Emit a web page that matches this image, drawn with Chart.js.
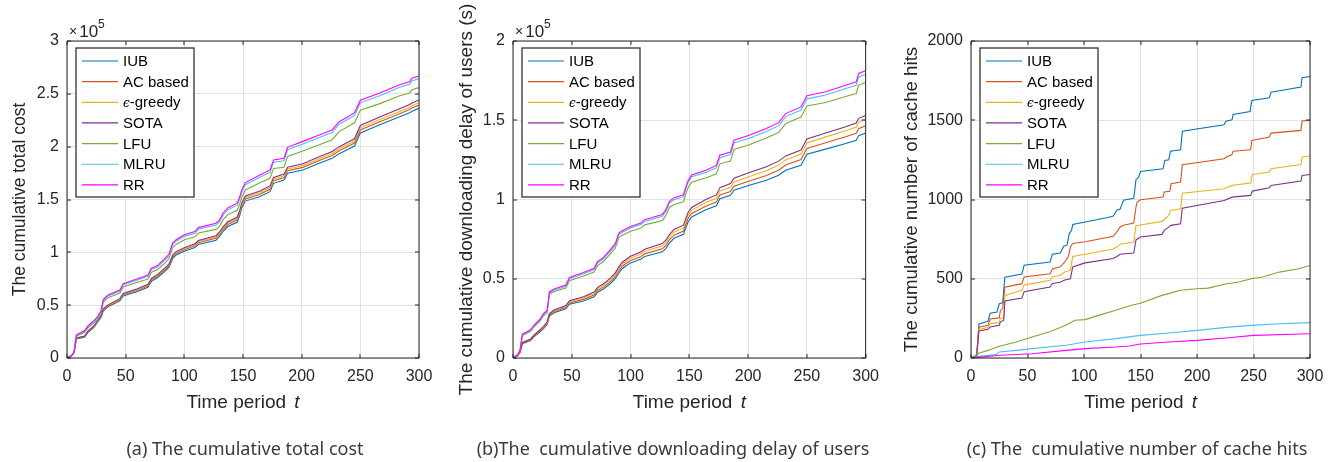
<!DOCTYPE html>
<html>
<head>
<meta charset="utf-8">
<script src="https://cdn.jsdelivr.net/npm/chart.js@4.4.1/dist/chart.umd.min.js"></script>
<style>
  html, body { margin: 0; padding: 0; background: #fff; }
  #wrap { position: relative; width: 1333px; height: 462px; overflow: hidden; }
  canvas { position: absolute; top: 0; }
</style>
</head>
<body>
<div id="wrap">
  <canvas id="costChart" width="444" height="462" style="left:0"></canvas>
  <canvas id="delayChart" width="444" height="462" style="left:444px"></canvas>
  <canvas id="hitsChart" width="445" height="462" style="left:888px"></canvas>
</div>
<script>
// Time periods where the cumulative curves of (a) and (b) change slope
const periods = [0, 4, 6, 8, 15, 18, 23, 26, 29, 31, 35, 45, 48, 60, 69, 72, 77, 83, 87, 90,
  93, 100, 109, 112, 127, 130, 133, 137, 145, 147, 149, 152, 164, 173, 176, 185, 188, 201, 215, 226,
  232, 245, 250, 266, 283, 292, 294, 300];

// (a) cumulative total cost, in thousands
const costIUB = [0, 2, 5, 18, 19.7, 24.4, 29, 33.8, 38.4, 44.7, 48.4, 54, 58.8, 63, 67, 72.5, 76, 81.5, 86, 94,
  97.5, 101, 104.5, 107.5, 111.5, 115, 119.7, 124.4, 128.5, 134, 142, 148.5, 152.6, 157.4, 165.3, 168.4, 174.8, 177.9, 184.2, 189,
  193.4, 200.6, 213, 220.5, 228, 232, 233.5, 236.3];
const costAC = [0, 2.1, 5.2, 18.5, 20.2, 25, 29.6, 34.5, 39.1, 45.5, 49.2, 54.9, 59.8, 64.1, 68.2, 73.7, 77.3, 82.8, 87.4, 95.4,
  98.9, 102.5, 106.1, 109.1, 113.3, 116.8, 121.6, 126.3, 130.5, 136, 144, 150.6, 154.8, 159.7, 167.6, 170.8, 177.2, 180.4, 186.8, 191.7,
  196.1, 203.4, 215.8, 223.4, 231, 235.1, 236.6, 239.4];
const costGreedy = [0, 2.1, 5.3, 18.8, 20.6, 25.4, 30, 34.9, 39.6, 46, 49.8, 55.6, 60.5, 64.9, 69, 74.6, 78.2, 83.8, 88.3, 96.4,
  99.9, 103.5, 107.2, 110.2, 114.5, 118.1, 122.9, 127.7, 131.9, 137.5, 145.5, 152, 156.3, 161.3, 169.2, 172.5, 178.9, 182.1, 188.6, 193.5,
  198, 205.3, 217.8, 225.5, 233.1, 237.2, 238.7, 241.6];
const costSOTA = [0, 2.2, 5.4, 19, 20.8, 25.6, 30.3, 35.3, 40, 46.5, 50.3, 56.2, 61.1, 65.6, 69.8, 75.3, 78.9, 84.5, 89.1, 97.2,
  100.7, 104.3, 108.1, 111.2, 115.7, 119.3, 124.1, 128.9, 133.2, 138.8, 146.8, 153.4, 157.8, 162.9, 170.8, 174.2, 180.6, 183.9, 190.5, 195.5,
  200, 207.5, 220, 227.8, 235.6, 239.8, 241.3, 244.2];
const costLFU = [0, 2.3, 5.1, 20.5, 24.4, 28.8, 33.3, 36.9, 42.4, 53.1, 57.1, 61.5, 67.3, 71.6, 74.8, 81.2, 83.5, 89.3, 94.1, 104.4,
  107.5, 111.9, 114.7, 118.3, 121.7, 124.6, 130.9, 135.7, 139.8, 145.2, 152.1, 159, 165.5, 170.1, 179.4, 180.5, 190.8, 196, 201.9, 206.6,
  214.3, 222.6, 234.5, 240.5, 247.9, 250.7, 253.8, 255.9];
const costMLRU = [0, 2.4, 5.3, 21.2, 25.2, 29.8, 34.4, 38.1, 43.7, 54.6, 58.7, 63.3, 69.2, 73.8, 77.3, 83.7, 86.2, 92.1, 97, 107.4,
  110.5, 115.1, 118.1, 121.8, 125.8, 128.8, 135.2, 140.2, 144.6, 150, 157, 164, 170.9, 175.8, 185.2, 186.7, 197.1, 202.6, 208.6, 213.4,
  221.2, 229.5, 241.5, 248, 255.9, 259, 262.2, 264.4];
const costRR = [0, 2.5, 5.6, 22, 26, 30.6, 35.3, 39, 44.7, 55.6, 59.7, 64.4, 70.3, 75, 78.5, 85, 87.5, 93.5, 98.4, 108.8,
  112, 116.6, 119.7, 123.4, 127.5, 130.6, 137, 142, 146.5, 152, 159, 166, 173, 178, 187.4, 189, 199.4, 205, 211, 215.8,
  223.6, 232, 244, 250.5, 258.4, 261.5, 264.7, 266.9];

// (b) cumulative downloading delay, in thousands of seconds
const delayIUB = [0, 1.5, 3.5, 9, 11, 13.5, 16.5, 18.5, 21.2, 26.5, 28.5, 31, 33.9, 36, 38.6, 41.5, 43.5, 47, 50, 53.5,
  56.5, 60, 62.5, 64, 67, 69, 72.5, 75.5, 78, 82, 86, 89, 93.5, 96, 100.5, 102.6, 105.8, 109, 112, 115.3,
  118.4, 121.6, 128.5, 131.8, 135.3, 137.4, 140.3, 142];
const delayAC = [0, 1.6, 3.7, 9.3, 11.4, 13.9, 17, 19, 21.8, 27.1, 29.2, 31.8, 34.7, 37, 39.7, 42.6, 44.7, 48.3, 51.3, 54.9,
  57.9, 61.5, 64.1, 65.7, 68.9, 70.9, 74.5, 77.5, 80.1, 84.2, 88.2, 91.2, 95.8, 98.4, 102.9, 105.1, 108.4, 111.7, 115, 118.5,
  121.7, 125.2, 132.2, 135.8, 139.6, 141.8, 144.7, 146.5];
const delayGreedy = [0, 1.6, 3.8, 9.6, 11.8, 14.4, 17.5, 19.5, 22.3, 27.7, 29.8, 32.5, 35.5, 37.9, 40.7, 43.7, 45.9, 49.6, 52.7, 56.3,
  59.3, 63, 65.7, 67.3, 70.7, 72.8, 76.4, 79.5, 82.2, 86.2, 90.3, 93.3, 98.1, 100.8, 105.4, 107.7, 111, 114.5, 118, 121.7,
  125, 128.7, 135.7, 139.5, 143.4, 145.7, 148.7, 150.5];
const delaySOTA = [0, 1.7, 3.9, 9.8, 12, 14.6, 17.8, 19.9, 22.7, 28.1, 30.3, 33.1, 36.2, 38.7, 41.6, 44.6, 46.8, 50.6, 53.7, 57.3,
  60.4, 64.2, 67, 68.6, 72.2, 74.3, 77.9, 81.1, 83.8, 87.9, 92, 95, 100, 102.9, 107.5, 110.1, 113.4, 117, 120.5, 124.2,
  127.5, 131.2, 138.2, 142, 145.9, 148.2, 151.2, 153];
const delayLFU = [0, 1.9, 4.7, 14.2, 16.8, 19.7, 23.3, 26.7, 28.6, 40.2, 41.9, 44.1, 48.8, 51.8, 54.2, 58.3, 60.9, 65.8, 69.2, 76,
  77.4, 80, 82, 84, 86.8, 89.8, 95, 96.9, 98.6, 103.6, 107.5, 110.9, 113.5, 116.2, 122.5, 124.3, 131.6, 134.5, 138.6, 142.3,
  147.9, 152, 159, 161.2, 165, 166.9, 172.2, 173.8];
const delayMLRU = [0, 2, 4.9, 14.7, 17.4, 20.3, 23.9, 27.3, 29.3, 40.9, 42.7, 45.2, 50, 53.1, 55.7, 59.9, 62.6, 67.5, 71, 77.8,
  79.3, 82, 84.2, 86.2, 89.4, 92.5, 97.7, 99.8, 101.8, 106.8, 110.8, 114.3, 117.1, 120, 126.4, 128.4, 135.7, 138.7, 142.8, 146.6,
  152.3, 156.4, 163.5, 165.9, 170, 172, 177.3, 179];
const delayRR = [0, 2, 5, 15, 17.8, 20.8, 24.5, 28, 30, 41.7, 43.5, 46, 50.8, 54, 56.6, 60.8, 63.5, 68.5, 72, 78.8,
  80.3, 83, 85.2, 87.3, 90.5, 93.6, 98.9, 101, 103, 108, 112, 115.5, 118.5, 121.5, 127.9, 130, 137.4, 140.5, 144.7, 148.5,
  154.2, 158.4, 165.5, 168, 172.1, 174.2, 179.5, 181.2];

// (c) cumulative cache hits as [period, hits]
const hitsIUB = [[0, 0], [5, 10], [7, 215], [15, 232], [17, 282], [23, 290], [25, 342], [28, 348], [30, 510], [45, 530],
  [47, 585], [70, 605], [72, 655], [79, 662], [82, 705], [85, 712], [87, 785], [89, 806], [90, 842], [101, 858],
  [120, 885], [126, 895], [129, 932], [132, 940], [135, 996], [144, 1008], [146, 1125], [148, 1138], [150, 1177], [170, 1194],
  [171.5, 1246], [175, 1251], [176.5, 1305], [185.5, 1314], [187, 1431], [224, 1471], [225.5, 1494], [231, 1503], [232, 1537], [247, 1555],
  [248.5, 1625], [264, 1642], [265.5, 1677], [292, 1709], [293, 1768], [300, 1776]];
const hitsAC = [[0, 0], [5, 12], [7, 195], [15, 206], [17, 246], [25, 253], [26, 300], [28, 312], [30, 447], [45, 469],
  [47, 511], [70, 532], [72, 562], [79, 575], [83, 606], [86, 638], [88, 700], [90, 722], [101, 733], [126, 768],
  [129, 796], [132, 827], [135, 838], [144, 851], [146, 952], [147, 984], [150, 998], [170, 1015], [171, 1047], [176, 1052],
  [177, 1099], [185.5, 1110], [187, 1219], [224, 1257], [226, 1268], [231, 1284], [232, 1305], [247.5, 1314], [248.5, 1373], [264, 1394],
  [265.5, 1419], [292, 1436], [293, 1495], [300, 1499]];
const hitsGreedy = [[0, 0], [5, 10], [7, 181], [15, 192], [17, 217], [25, 223], [26, 248], [29, 255], [30, 395], [45, 427],
  [47, 460], [70, 490], [72, 511], [79, 522], [83, 543], [88, 554], [90, 640], [101, 655], [126, 688], [129, 700],
  [132, 718], [144, 731], [146, 835], [169, 862], [175, 900], [176.5, 931], [185.5, 942], [187, 1040], [224, 1068], [231, 1089],
  [247.5, 1104], [249, 1158], [264, 1173], [265.5, 1194], [292, 1221], [293, 1268], [300, 1274]];
const hitsSOTA = [[0, 0], [5, 8], [7, 170], [15, 181], [17, 196], [25, 206], [26, 227], [29, 238], [30, 360], [45, 378],
  [47, 418], [70, 448], [72, 470], [79, 478], [83, 492], [88, 500], [90, 575], [101, 600], [126, 628], [129, 640],
  [132, 655], [144, 662], [146, 745], [150, 763], [169, 780], [171, 805], [175, 826], [177, 837], [185.5, 847], [187, 945],
  [224, 994], [231, 1015], [247.5, 1026], [249, 1053], [264, 1074], [265.5, 1089], [292, 1116], [293, 1152], [300, 1158]];
const hitsLFU = [[0, 0], [7, 30], [15, 48], [25, 74], [40, 101], [54, 133], [69, 164], [84, 206], [92, 238], [101, 242],
  [113, 269], [128, 301], [142, 333], [150, 345], [169, 395], [175, 406], [185, 427], [200, 437], [210, 441], [224, 465],
  [237, 479], [248, 500], [258, 511], [273, 542], [290, 563], [300, 584]];
const hitsMLRU = [[0, 0], [7, 10], [22, 21], [25, 38], [40, 48], [54, 59], [84, 80], [101, 101], [128, 122], [150, 143],
  [175, 158], [200, 174], [228, 195], [248, 206], [273, 216], [300, 223]];
const hitsRR = [[0, 0], [7, 4], [25, 17], [54, 27], [84, 48], [101, 59], [128, 69], [140, 76], [150, 88], [175, 101],
  [200, 111], [228, 128], [250, 143], [300, 153]];

const seriesNames = ['IUB', 'AC based', 'ϵ-greedy', 'SOTA', 'LFU', 'MLRU', 'RR'];
const seriesColors = ['#0072BD', '#D95319', '#EDB120', '#7E2F8E', '#77AC30', '#4DBEEE', '#FF00FF'];
const xTicks = [0, 50, 100, 150, 200, 250, 300];

const TEXT = '#262626';
const GRID = '#e2e2e2';
const SANS = '"Liberation Sans", Arial, sans-serif';

Chart.defaults.font.family = SANS;

const onPeriods = values => values.map((v, i) => ({ x: periods[i], y: v }));
const fromPairs = pairs => pairs.map(p => ({ x: p[0], y: p[1] }));

function buildDatasets(seriesList) {
  return seriesList.map((data, i) => ({
    label: seriesNames[i],
    data: data,
    borderColor: seriesColors[i],
    backgroundColor: seriesColors[i],
    borderWidth: 1.1,
    pointRadius: 0,
    tension: 0,
    fill: false,
    // later series are drawn on top, as in the legend order
    order: seriesNames.length - i
  }));
}

// axes box, inward ticks, legend, axis titles and caption
const matlabLook = {
  id: 'matlabLook',
  afterDraw(chart, args, o) {
    const ctx = chart.ctx;
    const a = chart.chartArea;
    const xs = chart.scales.x, ys = chart.scales.y;
    ctx.save();

    ctx.strokeStyle = TEXT;
    ctx.lineWidth = 1;
    ctx.beginPath();
    ctx.rect(a.left, a.top, a.right - a.left, a.bottom - a.top);
    xs.ticks.forEach(t => {
      const px = Math.round(xs.getPixelForValue(t.value));
      ctx.moveTo(px, a.bottom); ctx.lineTo(px, a.bottom - 4);
      ctx.moveTo(px, a.top); ctx.lineTo(px, a.top + 4);
    });
    ys.ticks.forEach(t => {
      const py = Math.round(ys.getPixelForValue(t.value));
      ctx.moveTo(a.left, py); ctx.lineTo(a.left + 4, py);
      ctx.moveTo(a.right, py); ctx.lineTo(a.right - 4, py);
    });
    ctx.stroke();

    // legend
    const lx = a.left + 9, ly = a.top + 7;
    ctx.fillStyle = '#fff';
    ctx.fillRect(lx, ly, 118, 149);
    ctx.strokeStyle = '#404040';
    ctx.lineWidth = 1.4;
    ctx.strokeRect(lx, ly, 118, 149);
    ctx.textBaseline = 'middle';
    chart.data.datasets.forEach((ds, i) => {
      const y = a.top + 20 + i * 20.65;
      ctx.strokeStyle = ds.borderColor;
      ctx.lineWidth = 1.2;
      ctx.beginPath();
      ctx.moveTo(lx + 6, y); ctx.lineTo(lx + 42, y);
      ctx.stroke();
      ctx.fillStyle = '#000';
      let tx = lx + 47;
      let label = ds.label;
      if (label.startsWith('ϵ')) {
        ctx.font = 'italic 12px "DejaVu Serif", serif';
        ctx.fillText('ϵ', tx, y + 2);
        tx += ctx.measureText('ϵ').width;
        label = label.slice(1);
      }
      ctx.font = '15px ' + SANS;
      ctx.fillText(label, tx, y + 1);
    });

    // x axis title with italic t
    ctx.fillStyle = TEXT;
    ctx.textBaseline = 'alphabetic';
    ctx.font = '19px ' + SANS;
    const part = 'Time period ';
    const w1 = ctx.measureText(part).width;
    ctx.font = 'italic 19px ' + SANS;
    const w2 = ctx.measureText('t').width;
    const cx = (a.left + a.right) / 2;
    const sx = cx - (w1 + w2 + 3) / 2;
    ctx.font = '19px ' + SANS;
    ctx.textAlign = 'left';
    ctx.fillText(part, sx, 408);
    ctx.font = 'italic 19px ' + SANS;
    ctx.fillText('t', sx + w1 + 3, 408);

    // y axis title
    ctx.save();
    ctx.translate(o.yTitleX, (a.top + a.bottom) / 2);
    ctx.rotate(-Math.PI / 2);
    ctx.textAlign = 'center';
    ctx.textBaseline = 'middle';
    ctx.font = o.yTitleSize + 'px ' + SANS;
    ctx.fillText(o.yTitle, 0, 0);
    ctx.restore();

    // x10^5 multiplier above the y axis
    if (o.exponent) {
      ctx.textAlign = 'left';
      ctx.font = '14px ' + SANS;
      ctx.fillText('×', a.left + 2, a.top - 5);
      const xw = ctx.measureText('×').width;
      ctx.font = '17px ' + SANS;
      ctx.fillText('10', a.left + 4 + xw, a.top - 4);
      const ew = ctx.measureText('10').width;
      ctx.font = '12px ' + SANS;
      ctx.fillText(o.exponent, a.left + 4 + xw + ew, a.top - 13);
    }

    // caption under the panel
    ctx.textAlign = 'center';
    ctx.fillStyle = '#3a3a3a';
    ctx.font = '18px "Noto Sans", sans-serif';
    ctx.fillText(o.caption, o.captionX, 455);

    ctx.restore();
  }
};

function buildScales(yMax, yStep, yFormat, yWidth) {
  const tickFont = { family: SANS, size: 16 };
  return {
    x: {
      type: 'linear', min: 0, max: 300,
      afterBuildTicks: s => { s.ticks = xTicks.map(v => ({ value: v })); },
      ticks: { color: TEXT, font: tickFont, padding: 9, maxRotation: 0, autoSkip: false },
      grid: { color: GRID, drawTicks: false },
      border: { display: false },
      afterFit: s => { s.height = 104; }
    },
    y: {
      type: 'linear', min: 0, max: yMax,
      ticks: { stepSize: yStep, color: TEXT, font: tickFont, padding: 8, callback: yFormat },
      grid: { color: GRID, drawTicks: false },
      border: { display: false },
      afterFit: s => { s.width = yWidth; }
    }
  };
}

function buildPanel(id, datasets, scales, padRight, look) {
  return new Chart(document.getElementById(id), {
    type: 'line',
    data: { datasets: datasets },
    options: {
      responsive: false,
      animation: false,
      devicePixelRatio: 1,
      layout: { padding: { left: 0, top: 41, right: padRight, bottom: 0 } },
      scales: scales,
      plugins: { legend: { display: false }, tooltip: { enabled: false }, matlabLook: look }
    },
    plugins: [matlabLook]
  });
}

buildPanel('costChart',
  buildDatasets([costIUB, costAC, costGreedy, costSOTA, costLFU, costMLRU, costRR].map(onPeriods)),
  buildScales(300, 50, v => v / 100, 67), 25,
  { yTitle: 'The cumulative total cost', yTitleX: 20, yTitleSize: 17.5, exponent: '5',
    caption: '(a) The cumulative total cost', captionX: 245 });

buildPanel('delayChart',
  buildDatasets([delayIUB, delayAC, delayGreedy, delaySOTA, delayLFU, delayMLRU, delayRR].map(onPeriods)),
  buildScales(200, 50, v => v / 100, 69), 22,
  { yTitle: 'The cumulative downloading delay of users (s)', yTitleX: 23, yTitleSize: 19, exponent: '5',
    caption: '(b)The  cumulative downloading delay of users', captionX: 229 });

buildPanel('hitsChart',
  buildDatasets([hitsIUB, hitsAC, hitsGreedy, hitsSOTA, hitsLFU, hitsMLRU, hitsRR].map(fromPairs)),
  buildScales(2000, 500, v => v, 83), 23,
  { yTitle: 'The cumulative number of cache hits', yTitleX: 24, yTitleSize: 18.7, exponent: null,
    caption: '(c) The  cumulative number of cache hits', captionX: 249 });
</script>
</body>
</html>
